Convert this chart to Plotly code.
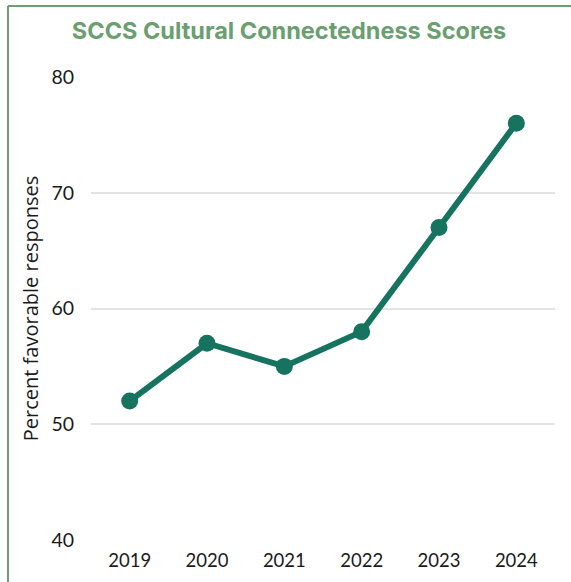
import plotly.graph_objects as go

years = ["2019", "2020", "2021", "2022", "2023", "2024"]
scores = [52, 57, 55, 58, 67, 76]

W, H = 571, 582
ml, mr, mt, mb = 91, 16, 77, 42
pw, ph = W - ml - mr, H - mt - mb

def px_x(p):
    return (p - ml) / pw

def px_y(p):
    return (H - mb - p) / ph

fig = go.Figure(go.Scatter(
    x=years, y=scores, mode="lines+markers",
    line=dict(color="#16735f", width=6),
    marker=dict(color="#16735f", size=17),
    hoverinfo="x+y",
))

border = "#6f9e72"
fig.add_shape(type="line", xref="paper", yref="paper",
              x0=px_x(8), x1=px_x(600), y0=px_y(6), y1=px_y(6),
              line=dict(color=border, width=2))
fig.add_shape(type="line", xref="paper", yref="paper",
              x0=px_x(8), x1=px_x(8), y0=px_y(6), y1=px_y(600),
              line=dict(color=border, width=2))

fig.update_layout(
    template="none",
    width=W, height=H,
    margin=dict(l=ml, r=mr, t=mt, b=mb, autoexpand=False),
    paper_bgcolor="white", plot_bgcolor="white",
    showlegend=False,
    font=dict(family="Lato, Liberation Sans, sans-serif", color="#1a1a1a"),
    title=dict(text="<b>SCCS Cultural Connectedness Scores</b>",
               x=289 / W, xanchor="center",
               y=1 - 31 / H, yanchor="middle",
               font=dict(family="Inter, Roboto, sans-serif", size=23.5, color="#6b9e70")),
    xaxis=dict(type="category", range=[-0.5, 5.5], showgrid=False, zeroline=False,
               automargin=False,
               showline=False, ticks="outside", ticklen=4, tickcolor="rgba(0,0,0,0)",
               tickfont=dict(size=18.5, color="#1a1a1a")),
    yaxis=dict(range=[40, 80], dtick=10, showgrid=True, gridcolor="#e3e3e3", gridwidth=1.5,
               automargin=False,
               zeroline=False, showline=False, ticks="outside", ticklen=12,
               tickcolor="rgba(0,0,0,0)",
               tickfont=dict(size=19.5, color="#1a1a1a"),
               title=dict(text="Percent favorable responses", standoff=7,
                          font=dict(family="Open Sans, sans-serif", size=20, color="#1a1a1a"))),
)

fig.write_html("out.html", config={"displayModeBar": False},
               post_script="document.body.style.margin='0';")
